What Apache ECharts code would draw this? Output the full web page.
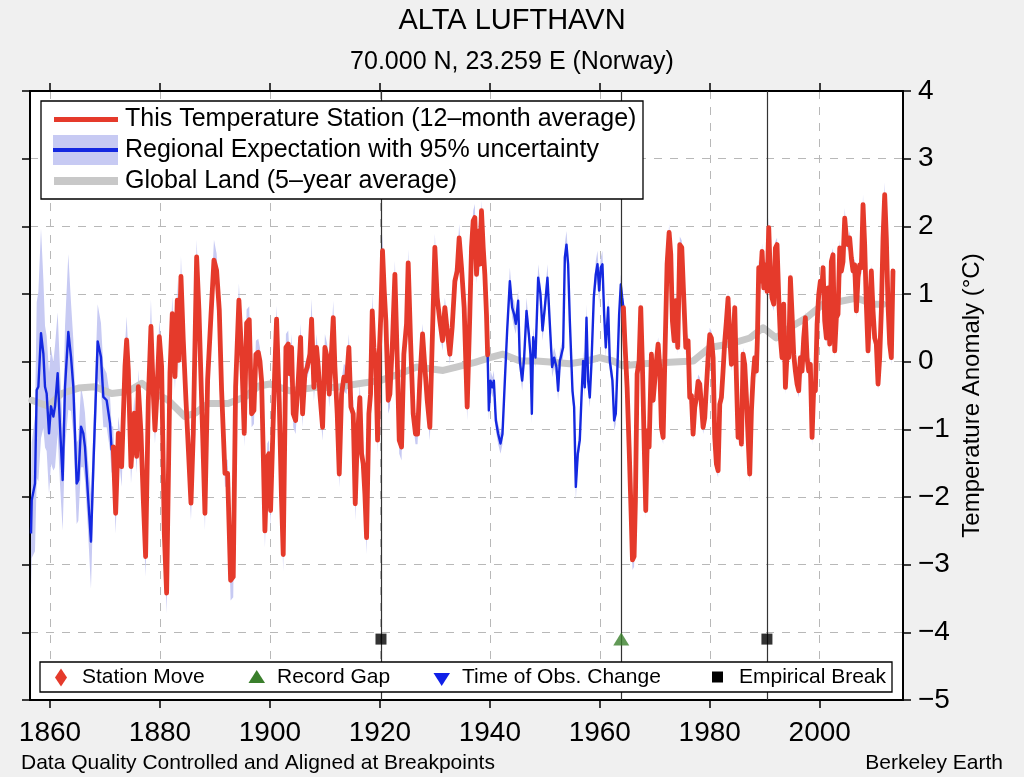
<!DOCTYPE html>
<html>
<head>
<meta charset="utf-8">
<script src="https://cdn.jsdelivr.net/npm/echarts@6/dist/echarts.min.js"></script>
<style>
html,body{margin:0;padding:0;background:#f0f0f0;}
#chart{width:1024px;height:777px;}
</style>
</head>
<body>
<div id="chart"></div>
<script>
// ---------------- DATA ----------------
const xTickYears = [1860, 1880, 1900, 1920, 1940, 1960, 1980, 2000];

// Regional expectation (12-month moving average)
const regionYears = [
  1856.55,1856.67,1857.27,1857.58,1857.88,1858.36,1858.79,1859.09,1859.39,1859.82,
  1860.18,1860.61,1860.91,1861.39,1861.82,1862.3,1862.73,1863.33,1863.82,1864.24,
  1864.85,1865.15,1865.64,1866.06,1866.36,1866.85,1867.45,1867.88,1868.67,1869.27,
  1869.7,1870.3,1870.91,1871.21,
  1871.5,1871.94,1872.42,1873.03,1873.64,1873.94,1874.24,1874.73,1875.33,1875.76,
  1876.06,1876.55,1876.97,1877.39,1877.88,1878.36,1878.79,1879.09,1879.39,1879.88,
  1880.3,1880.79,1881.21,1881.82,1882.24,1882.73,1883.15,1883.45,1883.82,1884.24,
  1884.73,1885.64,1886.06,1886.67,1887.09,1887.58,1888.18,1888.67,1889.27,1889.82,
  1890.3,1890.79,1891.21,1891.82,1892.3,1892.61,1892.85,1893.33,1893.76,1894.36,
  1894.85,1895.33,1895.76,1896.24,1896.67,1897.09,1897.45,1897.88,1898.18,1898.48,
  1898.79,1899.09,1899.52,1899.82,1900.12,1900.48,1900.85,1901.21,1901.7,1902.1,
  1902.42,1902.91,1903.33,1903.64,1903.94,1904.24,1904.67,1905.15,1905.58,1905.94,
  1906.36,1906.79,1907.27,1907.58,1908.0,1908.48,1908.79,1909.09,1909.58,1910.0,
  1910.42,1910.79,1911.09,1911.52,1911.82,1912.24,1912.61,1913.03,1913.45,1913.94,
  1914.36,1914.73,1915.15,1915.52,1915.88,1916.36,1916.67,1916.97,1917.27,1917.58,
  1918.0,1918.3,1918.61,1918.91,1919.27,1919.58,1919.88,1920.18,1920.48,1920.79,
  1921.09,1921.52,1921.82,1922.3,1922.73,1923.15,1923.52,1923.94,1924.36,1924.85,
  1925.15,1925.58,1926.06,1926.48,1926.85,1927.27,1927.76,1928.18,1928.61,1929.09,
  1929.58,1930.0,1930.42,1930.91,1931.39,1931.82,1932.24,1932.73,1933.15,1933.64,
  1934.06,1934.42,1934.85,1935.33,1935.88,1936.36,1936.67,1936.97,1937.27,1937.58,
  1937.88,1938.18,1938.48,1938.79,1939.09,1939.39,1939.6,
  1939.82,1940.12,1940.48,1940.73,1941.09,1941.52,1941.94,1942.3,1942.73,1943.15,
  1943.64,1944.06,1944.42,1944.73,1945.15,1945.45,1945.88,1946.24,1946.67,1947.09,
  1947.39,1947.64,1947.88,1948.3,1948.79,1949.21,1949.58,1950.0,1950.48,1950.91,
  1951.33,1951.7,1952.12,1952.42,1952.73,1953.03,1953.33,1953.64,1953.94,1954.24,
  1954.55,1955.03,1955.33,1955.64,1956.0,1956.36,1956.67,1956.97,1957.27,1957.58,
  1957.88,1958.18,1958.48,1958.91,1959.27,1959.58,1959.88,1960.18,1960.48,1960.79,
  1961.09,1961.52,1961.82,1962.3,1962.61,1962.91,1963.21,1963.52,1963.82,1964.06,
  1964.3,
  1964.55,1964.97,1965.33,1965.7,1965.94,1966.24,1966.48,1966.79,1967.15,1967.45,
  1967.76,1968.06,1968.36,1968.67,1968.97,1969.39,1969.7,1970.0,1970.3,1970.61,
  1970.91,1971.21,1971.52,1971.88,1972.24,1972.61,1972.91,1973.21,1973.52,1973.82,
  1974.18,1974.55,1974.91,1975.27,1975.64,1976.06,1976.36,1976.67,1976.97,1977.27,
  1977.58,1977.88,1978.18,1978.48,1978.79,1979.09,1979.39,1979.7,1980.0,1980.3,
  1980.61,1980.91,1981.21,1981.52,1981.82,1982.12,1982.42,1982.73,1983.03,1983.33,
  1983.64,1983.94,1984.24,1984.55,1984.85,1985.15,1985.45,1985.76,1986.06,1986.36,
  1986.67,1986.97,1987.27,1987.58,1987.88,1988.18,1988.48,1988.67,1988.91,1989.21,
  1989.52,1989.82,1990.12,1990.42,1990.73,1991.03,1991.33,1991.64,1991.94,1992.24,
  1992.55,1992.85,1993.15,1993.45,1993.76,1994.06,1994.36,1994.67,1994.97,1995.27,
  1995.58,1995.88,1996.18,1996.48,1996.79,1997.09,1997.39,1997.7,1998.0,1998.3,
  1998.61,1998.91,1999.21,1999.52,1999.82,2000.12,2000.42,2000.61,2000.91,2001.21,
  2001.52,2001.82,2002.12,2002.42,2002.73,2003.03,2003.33,2003.64,2003.94,2004.24,
  2004.55,2004.85,2005.15,2005.45,2005.76,2006.06,2006.36,2006.67,2006.97,2007.27,
  2007.58,2007.88,2008.18,2008.48,2008.79,2009.09,2009.39,2009.7,2010.0,2010.3,
  2010.61,2010.91,2011.21,2011.52,2011.82,2012.12,2012.42,2012.73,2013.03,2013.33
];
const regionValues = [
  -2.54,-2.05,-1.8,-0.42,-0.37,0.42,0.12,-0.37,-0.47,-1.06,
  -0.66,-0.81,-0.66,-0.17,-0.96,-1.75,-0.37,0.44,0.07,-0.37,
  -1.8,-1.75,-0.96,-1.06,-1.26,-1.9,-2.66,-1.55,0.3,0.07,
  -0.52,-0.57,-0.91,-1.3,
  -1.26,-2.24,-1.06,-1.55,-0.07,0.32,-0.12,-1.55,-0.76,-1.4,
  -0.37,-1.06,-2.04,-2.88,-0.57,0.52,-0.47,-1.01,-0.57,0.37,
  -0.07,-2.54,-3.42,-0.17,0.71,-0.22,0.91,0.02,1.26,0.32,
  -0.57,-2.09,-1.06,1.55,0.76,-0.57,-2.24,-0.27,0.67,1.5,
  1.35,0.76,-0.42,-1.65,-1.65,-2.54,-3.23,-3.18,-0.37,0.91,
  0.12,-1.06,0.57,0.62,-0.77,-0.72,0.11,0.14,0.01,-0.28,
  -1.36,-2.5,-1.41,-1.36,-2.2,-1.2,-0.2,0.63,-0.6,-2.0,
  -2.85,0.21,0.26,-0.18,0.21,-0.77,-0.87,-0.28,0.36,-0.77,
  -0.18,-0.08,0.11,0.63,-0.38,0.21,-0.08,-0.48,-0.97,0.21,
  0.06,-0.48,-0.03,0.65,-0.08,-0.77,-1.66,-0.48,-0.23,-0.28,
  0.21,-0.67,-0.77,-2.1,-1.16,-0.53,-1.36,-1.51,-1.95,-2.6,
  -0.77,-0.48,0.75,0.21,-0.08,-1.16,0.11,0.7,1.64,1.05,
  0.6,-0.57,-0.48,0.31,1.29,0.06,-1.16,-1.26,0.11,0.56,
  1.46,0.31,-0.77,-1.07,-1.07,-0.28,0.41,-0.08,-0.57,-0.97,
  0.46,1.69,0.95,0.6,0.31,0.8,0.46,0.11,0.51,1.19,
  1.34,1.83,1.39,0.8,-0.67,0.7,1.69,2.08,2.13,1.29,
  1.93,1.44,2.23,1.69,1.29,0.7,0.1,
  -0.72,-0.28,-0.38,-0.28,-0.87,-1.07,-1.21,-1.07,-0.28,0.46,
  1.19,0.8,0.7,0.56,0.9,0.01,-0.28,0.06,0.75,0.41,
  0.11,-0.77,0.36,0.06,1.24,1.0,0.46,0.8,1.24,0.56,
  -0.08,0.06,-0.08,-0.43,0.01,0.11,0.21,1.54,1.73,1.44,
  0.6,-0.43,-0.67,-1.85,-1.36,-1.16,-0.53,0.01,-0.38,0.65,
  -0.28,-0.53,-0.03,0.95,1.29,1.44,1.05,1.39,1.44,0.7,
  0.21,0.8,0.01,-0.28,-0.87,-0.77,-0.08,0.7,1.14,0.95,
  0.8,
  0.31,-0.38,-1.26,-2.25,-2.93,-2.88,-2.05,-0.18,0.01,0.8,
  -0.08,-1.16,-2.2,-1.02,-1.26,0.11,-0.57,-0.28,0.01,0.26,
  -0.08,-0.97,-1.12,0.21,1.44,1.91,1.59,0.6,0.31,0.9,
  0.21,1.73,1.69,0.95,0.21,0.31,-0.53,-0.5,-1.07,-0.68,
  -0.53,-0.29,-0.33,-0.63,-0.97,-0.83,-0.38,0.06,0.4,0.35,
  0.06,-1.12,-1.51,-1.61,-0.63,-0.53,-0.14,0.3,0.6,0.94,
  0.35,-0.04,0.26,0.8,-0.24,-1.12,-0.73,-1.22,0.11,-0.04,
  -0.53,-1.12,-1.66,-0.73,-0.24,0.06,-0.14,0.35,1.39,1.19,
  1.63,1.09,1.43,1.04,1.98,1.24,0.94,0.85,1.68,1.73,
  0.94,0.35,0.06,0.85,-0.38,0.11,0.06,1.24,0.7,0.11,
  -0.14,-0.33,-0.43,0.06,-0.14,0.35,0.65,0.06,-0.14,-0.04,
  -1.12,-0.38,-0.43,0.55,0.99,1.19,1.09,1.39,0.6,0.35,
  1.09,0.26,1.48,1.58,0.16,0.65,0.7,1.68,1.34,1.48,
  2.12,1.83,1.73,1.83,1.53,1.34,1.43,0.75,1.24,1.43,
  1.39,2.32,1.73,0.85,0.16,0.75,1.34,0.75,0.35,0.26,
  -0.33,0.06,0.75,1.83,2.47,1.83,0.85,0.26,0.06,1.34
];
// 95% half-width of the regional expectation
const regionUncertainty = [
  0.8,0.85,1.0,1.3,1.4,1.55,1.1,0.9,0.85,0.9,
  0.85,0.8,0.9,0.9,0.85,0.75,0.9,1.15,0.8,0.7,
  0.6,0.6,0.6,0.5,0.5,0.5,0.7,0.55,0.55,0.5,
  0.45,0.4,0.4,0.35,
  0.3,0.3,0.25,0.3,0.3,0.35,0.25,0.25,0.25,0.25,
  0.25,0.25,0.3,0.3,0.25,0.4,0.25,0.2,0.2,0.25,
  0.25,0.3,0.3,0.25,0.25,0.2,0.3,0.2,0.3,0.25,
  0.2,0.25,0.2,0.25,0.2,0.2,0.25,0.2,0.2,0.3,
  0.25,0.2,0.2,0.2,0.2,0.25,0.3,0.3,0.2,0.25,
  0.2,0.2,0.2,0.2,0.2,0.2,0.2,0.2,0.2,0.2,
  0.2,0.25,0.2,0.2,0.25,0.2,0.2,0.2,0.2,0.25,
  0.25,0.2,0.2,0.2,0.2,0.2,0.2,0.2,0.2,0.2,
  0.15,0.15,0.2,0.3,0.2,0.2,0.15,0.2,0.2,0.2,
  0.2,0.2,0.2,0.25,0.2,0.2,0.2,0.2,0.2,0.2,
  0.2,0.2,0.2,0.25,0.2,0.2,0.2,0.2,0.2,0.25,
  0.2,0.2,0.25,0.2,0.2,0.2,0.2,0.25,0.25,0.2,
  0.2,0.2,0.2,0.2,0.2,0.2,0.2,0.2,0.15,0.15,
  0.2,0.2,0.15,0.15,0.15,0.15,0.15,0.15,0.15,0.2,
  0.15,0.2,0.2,0.15,0.15,0.15,0.15,0.15,0.15,0.2,
  0.15,0.2,0.15,0.15,0.2,0.15,0.15,0.15,0.2,0.15,
  0.15,0.15,0.15,0.15,0.15,0.15,0.15,
  0.15,0.15,0.15,0.15,0.15,0.15,0.15,0.15,0.15,0.15,
  0.2,0.15,0.2,0.15,0.15,0.15,0.15,0.15,0.2,0.15,
  0.15,0.15,0.15,0.15,0.2,0.15,0.15,0.15,0.2,0.15,
  0.15,0.15,0.15,0.15,0.15,0.15,0.15,0.2,0.2,0.15,
  0.15,0.15,0.15,0.2,0.15,0.15,0.15,0.15,0.15,0.2,
  0.15,0.15,0.15,0.15,0.2,0.2,0.2,0.15,0.2,0.15,
  0.15,0.15,0.15,0.15,0.15,0.15,0.15,0.15,0.15,0.15,
  0.15,
  0.1,0.1,0.1,0.12,0.15,0.15,0.12,0.1,0.1,0.1,
  0.1,0.1,0.12,0.1,0.1,0.1,0.1,0.1,0.1,0.1,
  0.1,0.1,0.1,0.1,0.1,0.12,0.1,0.1,0.1,0.1,
  0.1,0.12,0.1,0.1,0.1,0.1,0.1,0.1,0.1,0.1,
  0.1,0.1,0.1,0.1,0.1,0.1,0.1,0.1,0.1,0.1,
  0.1,0.1,0.1,0.1,0.1,0.1,0.1,0.1,0.1,0.1,
  0.1,0.1,0.1,0.1,0.1,0.1,0.1,0.1,0.1,0.1,
  0.1,0.1,0.12,0.1,0.1,0.1,0.1,0.1,0.12,0.1,
  0.12,0.1,0.1,0.1,0.15,0.1,0.1,0.1,0.1,0.1,
  0.1,0.1,0.1,0.1,0.1,0.1,0.1,0.1,0.1,0.1,
  0.1,0.1,0.1,0.1,0.1,0.1,0.1,0.1,0.1,0.1,
  0.12,0.1,0.1,0.1,0.1,0.1,0.1,0.1,0.1,0.1,
  0.1,0.1,0.1,0.1,0.1,0.1,0.1,0.12,0.1,0.1,
  0.15,0.1,0.1,0.1,0.1,0.1,0.1,0.1,0.1,0.1,
  0.1,0.15,0.1,0.1,0.1,0.1,0.1,0.1,0.1,0.1,
  0.1,0.1,0.1,0.1,0.18,0.1,0.1,0.1,0.1,0.12
];
// periods in which the station itself reports (red curve)
const stationPeriods = [[1871.5, 1939.6], [1964.3, 2013.4]];

// Global land, 5-year average
const globalYears = [
  1856.7,1859.7,1862.1,1865.2,1868.2,1871.2,1874.2,1876.7,1879.1,1881.5,
  1884.5,1886.4,1888.8,1892.4,1895.5,1898.0,1900.0,1903.6,1908.5,1912.1,
  1915.8,1920.0,1923.6,1926.7,1931.5,1933.9,1937.3,1940.0,1942.4,1945.5,
  1948.5,1951.5,1954.5,1957.6,1960.0,1962.4,1964.2,1967.9,1972.7,1977.0,
  1980.0,1983.6,1987.3,1989.7,1992.1,1994.5,1997.6,2000.6,2003.6,2006.7,
  2009.7,2011.5
];
const globalValues = [
  -0.57,-0.66,-0.47,-0.39,-0.37,-0.47,-0.44,-0.32,-0.47,-0.57,
  -0.81,-0.76,-0.62,-0.62,-0.52,-0.36,-0.33,-0.43,-0.38,-0.38,
  -0.33,-0.28,-0.18,-0.08,-0.13,-0.08,-0.01,0.06,0.11,0.01,
  0.01,-0.01,-0.03,0.01,0.06,0.01,-0.06,-0.03,-0.01,0.01,
  0.21,0.26,0.35,0.5,0.35,0.5,0.65,0.85,0.89,0.94,
  0.85,0.85
];

// Breakpoints
const empiricalBreakYears = [1920.2, 1990.4];
const recordGapYears = [1963.9];
const stationMoveYears = [];
const obsChangeYears = [];
const breakMarkerLevel = -4.1;

// ---------------- STYLE ----------------
const FONT = '"Liberation Sans", Arial, Helvetica, sans-serif';
const RED = '#e53a2b';
const BLUE = '#1428e0';
const BAND = '#c7caf3';
const GRAY = '#c8c8c8';
const GREEN = '#3a7f2c';

// ---------------- BUILD ----------------
const regionData = regionYears.map((y, i) => [y, regionValues[i]]);
const stationSegments = stationPeriods.map(p =>
  regionYears.map((y, i) => [y, regionValues[i]]).filter(d => d[0] >= p[0] && d[0] <= p[1]));
const globalData = globalYears.map((y, i) => [y, globalValues[i]]);
const breakLineYears = empiricalBreakYears.concat(recordGapYears, stationMoveYears, obsChangeYears);

const chart = echarts.init(document.getElementById('chart'), null, {renderer: 'canvas'});

const xCommon = {
  type: 'value', min: 1856.36, max: 2015.15,
  axisLine: {show: true, onZero: false, lineStyle: {color: '#000', width: 2}},
  axisTick: {show: true, inside: false, length: 8, lineStyle: {color: '#000', width: 1.5}, customValues: xTickYears}
};
const yCommon = {
  type: 'value', min: -5, max: 4, interval: 1,
  axisLine: {show: true, onZero: false, lineStyle: {color: '#000', width: 2}},
  axisTick: {show: true, inside: false, length: 8, lineStyle: {color: '#000', width: 1.5}}
};
const gridDash = {show: true, lineStyle: {color: '#b8b8b8', width: 1, type: [8, 8]}};
const txt = (text, x, y, size, align) => ({
  type: 'text', z: 101,
  style: {text: text, x: x, y: y, font: size + 'px ' + FONT, fill: '#000',
    textAlign: align, textVerticalAlign: 'middle', align: align, verticalAlign: 'middle'}
});

const option = {
  animation: false,
  backgroundColor: '#f0f0f0',
  title: {
    text: 'ALTA LUFTHAVN',
    subtext: '70.000 N, 23.259 E (Norway)',
    left: 'center', top: 6, padding: 0, itemGap: 15,
    textStyle: {fontFamily: FONT, fontSize: 29, fontWeight: 'normal', color: '#000'},
    subtextStyle: {fontFamily: FONT, fontSize: 25, color: '#000'}
  },
  grid: {left: 30, right: 121, top: 91, bottom: 77, show: true, backgroundColor: '#ffffff', borderWidth: 0, containLabel: false},
  xAxis: [
    Object.assign({}, xCommon, {
      position: 'bottom',
      axisLabel: {show: true, customValues: xTickYears, margin: 19, fontSize: 28, fontFamily: FONT, color: '#000',
        formatter: v => String(Math.round(v))},
      splitLine: gridDash
    }),
    Object.assign({}, xCommon, {
      position: 'top',
      axisLabel: {show: false},
      splitLine: {show: false}
    })
  ],
  yAxis: [
    Object.assign({}, yCommon, {
      position: 'right',
      name: 'Temperature Anomaly (°C)',
      nameLocation: 'middle', nameRotate: 90, nameGap: 57,
      nameTextStyle: {fontFamily: FONT, fontSize: 24, color: '#000'},
      axisLabel: {show: true, margin: 15, fontSize: 28, fontFamily: FONT, color: '#000',
        formatter: v => String(v).replace('-', '\u2212')},
      splitLine: gridDash
    }),
    Object.assign({}, yCommon, {
      position: 'left',
      axisLabel: {show: false},
      splitLine: {show: false}
    })
  ],
  series: [
    {
      type: 'custom', name: 'Regional Expectation 95% uncertainty', z: 1, silent: true,
      xAxisIndex: 0, yAxisIndex: 0,
      data: [[regionYears[0], regionValues[0]]],
      renderItem: function (params, api) {
        const upper = [], lower = [];
        for (let i = 0; i < regionYears.length; i++) {
          upper.push(api.coord([regionYears[i], regionValues[i] + regionUncertainty[i]]));
          lower.push(api.coord([regionYears[i], regionValues[i] - regionUncertainty[i]]));
        }
        return {type: 'polygon', shape: {points: upper.concat(lower.reverse())}, style: {fill: BAND}, silent: true};
      }
    },
    {
      type: 'line', name: 'Global Land (5-year average)', data: globalData, z: 3,
      showSymbol: false, symbol: 'none', silent: true,
      lineStyle: {color: GRAY, width: 7, cap: 'round', join: 'round'},
      markLine: {
        silent: true, symbol: ['none', 'none'], label: {show: false}, animation: false,
        lineStyle: {color: '#333', width: 1.2, type: 'solid'},
        data: breakLineYears.map(y => ({xAxis: y}))
      }
    },
    {
      type: 'line', name: 'Regional Expectation', data: regionData, z: 4,
      showSymbol: false, symbol: 'none', silent: true,
      lineStyle: {color: BLUE, width: 2.4, join: 'round'}
    },
    ...stationSegments.map(seg => ({
      type: 'line', name: 'This Temperature Station', data: seg, z: 5,
      showSymbol: false, symbol: 'none', silent: true,
      lineStyle: {color: RED, width: 4.8, join: 'round', cap: 'round'}
    })),
    {
      type: 'scatter', name: 'Empirical Break', z: 6, silent: true,
      data: empiricalBreakYears.map(y => [y, breakMarkerLevel]),
      symbol: 'rect', symbolSize: 11, itemStyle: {color: '#000'}
    },
    {
      type: 'scatter', name: 'Record Gap', z: 6, silent: true,
      data: recordGapYears.map(y => [y, breakMarkerLevel]),
      symbol: 'triangle', symbolSize: [16, 13], itemStyle: {color: GREEN}
    },
    {
      type: 'scatter', name: 'Station Move', z: 6, silent: true,
      data: stationMoveYears.map(y => [y, breakMarkerLevel]),
      symbol: 'diamond', symbolSize: [12, 18], itemStyle: {color: RED}
    },
    {
      type: 'scatter', name: 'Time of Obs. Change', z: 6, silent: true,
      data: obsChangeYears.map(y => [y, breakMarkerLevel]),
      symbol: 'path://M0,0 L10,0 L5,9 Z', symbolSize: [16, 13], itemStyle: {color: '#1020e8'}
    }
  ],
  graphic: [
    // top legend
    {type: 'rect', z: 100, shape: {x: 41, y: 101, width: 602, height: 98}, style: {fill: '#fff', stroke: '#000', lineWidth: 1.3}},
    {type: 'line', z: 101, shape: {x1: 54, y1: 119.5, x2: 118, y2: 119.5}, style: {stroke: RED, lineWidth: 5}},
    {type: 'rect', z: 101, shape: {x: 53, y: 135, width: 65, height: 30}, style: {fill: BAND}},
    {type: 'line', z: 102, shape: {x1: 53, y1: 150, x2: 118, y2: 150}, style: {stroke: BLUE, lineWidth: 4}},
    {type: 'line', z: 101, shape: {x1: 54, y1: 181, x2: 118, y2: 181}, style: {stroke: GRAY, lineWidth: 8}},
    txt('This Temperature Station (12\u2013month average)', 125, 119, 25, 'left'),
    txt('Regional Expectation with 95% uncertainty', 125, 150, 25, 'left'),
    txt('Global Land (5\u2013year average)', 125, 181.5, 25, 'left'),
    // bottom legend
    {type: 'rect', z: 100, shape: {x: 40, y: 662, width: 852, height: 30}, style: {fill: '#fff', stroke: '#000', lineWidth: 1.3}},
    {type: 'polygon', z: 101, shape: {points: [[61, 668.5], [67, 677.5], [61, 686.5], [55, 677.5]]}, style: {fill: RED}},
    {type: 'polygon', z: 101, shape: {points: [[248.5, 683], [265, 683], [256.7, 670]]}, style: {fill: GREEN}},
    {type: 'polygon', z: 101, shape: {points: [[433.5, 673], [450, 673], [441.7, 686]]}, style: {fill: '#1020e8'}},
    {type: 'rect', z: 101, shape: {x: 712, y: 671.5, width: 11, height: 11}, style: {fill: '#000'}},
    txt('Station Move', 82, 677, 21, 'left'),
    txt('Record Gap', 277, 677, 21, 'left'),
    txt('Time of Obs. Change', 462, 677, 21, 'left'),
    txt('Empirical Break', 739, 677, 21, 'left'),
    // footer
    txt('Data Quality Controlled and Aligned at Breakpoints', 21, 763, 21, 'left'),
    txt('Berkeley Earth', 1003, 763, 21, 'right')
  ]
};
chart.setOption(option);
</script>
</body>
</html>
